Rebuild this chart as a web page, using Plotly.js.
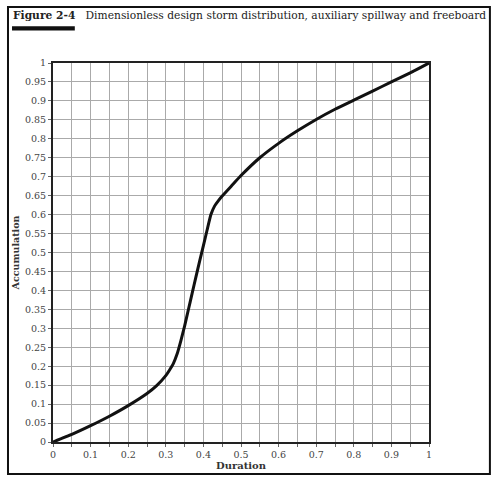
<!DOCTYPE html>
<html>
<head>
<meta charset="utf-8">
<script src="https://cdn.plot.ly/plotly-3.0.1.min.js"></script>
<style>html,body{margin:0;padding:0;background:#fff;}#chart{width:496px;height:478px;}</style>
</head>
<body>
<div id="chart"></div>
<script>
// Data
var duration = [0, 0.05, 0.1, 0.15, 0.2, 0.25, 0.275, 0.3, 0.31, 0.32, 0.33, 0.34, 0.35, 0.36, 0.37, 0.38, 0.39, 0.4, 0.41, 0.42, 0.43, 0.44, 0.45, 0.475, 0.5, 0.55, 0.6, 0.65, 0.7, 0.75, 0.8, 0.85, 0.9, 0.95, 1];
var accumulation = [0, 0.02, 0.043, 0.068, 0.096, 0.128, 0.148, 0.175, 0.19, 0.207, 0.232, 0.267, 0.306, 0.349, 0.392, 0.435, 0.477, 0.518, 0.56, 0.6, 0.623, 0.637, 0.649, 0.676, 0.703, 0.75, 0.788, 0.821, 0.851, 0.878, 0.902, 0.926, 0.95, 0.974, 1];

var xTickVals = [0,0.05,0.1,0.15,0.2,0.25,0.3,0.35,0.4,0.45,0.5,0.55,0.6,0.65,0.7,0.75,0.8,0.85,0.9,0.95,1];
var xTickText = ['0','','0.1','','0.2','','0.3','','0.4','','0.5','','0.6','','0.7','','0.8','','0.9','','1'];
var yTickVals = [0,0.05,0.1,0.15,0.2,0.25,0.3,0.35,0.4,0.45,0.5,0.55,0.6,0.65,0.7,0.75,0.8,0.85,0.9,0.95,1];
var yTickText = ['0','0.05','0.1','0.15','0.2','0.25','0.3','0.35','0.4','0.45','0.5','0.55','0.6','0.65','0.7','0.75','0.8','0.85','0.9','0.95','1'];

var titleBold = 'Figure 2-4';
var titleRest = 'Dimensionless design storm distribution, auxiliary spillway and freeboard';
var xTitle = 'Duration';
var yTitle = 'Accumulation';

var serif = '"DejaVu Serif", "Liberation Serif", serif';

var trace = {
  x: duration, y: accumulation, type: 'scatter', mode: 'lines',
  line: {color: '#111', width: 3, shape: 'spline', smoothing: 0.4},
  hoverinfo: 'skip'
};

var layout = {
  width: 496, height: 478,
  margin: {l: 53, r: 67, t: 63, b: 36},
  paper_bgcolor: '#fff', plot_bgcolor: '#fff',
  showlegend: false,
  font: {family: serif, color: '#333', size: 10},
  xaxis: {
    range: [0, 1], tickvals: xTickVals, ticktext: xTickText,
    showgrid: true, gridcolor: '#aaa', gridwidth: 1,
    zeroline: false, showline: true, linecolor: '#222', linewidth: 2, mirror: true,
    ticks: 'outside', ticklen: 3, tickcolor: '#666',
    tickfont: {family: serif, size: 9.5, color: '#444'},
    title: {text: '<b>' + xTitle + '</b>', font: {family: serif, size: 10, color: '#333'}, standoff: 3},
    fixedrange: true
  },
  yaxis: {
    range: [0, 1], tickvals: yTickVals, ticktext: yTickText,
    showgrid: true, gridcolor: '#aaa', gridwidth: 1,
    zeroline: false, showline: true, linecolor: '#222', linewidth: 2, mirror: true,
    ticks: 'outside', ticklen: 3, tickcolor: '#666',
    tickfont: {family: serif, size: 9.5, color: '#444'},
    title: {text: '<b>' + yTitle + '</b>', font: {family: serif, size: 9.5, color: '#333'}, standoff: 4},
    fixedrange: true
  },
  shapes: [
    // outer frame of the figure box
    {type: 'rect', xref: 'paper', yref: 'paper', x0: -0.1197, x1: 1.162, y0: -0.0844, y1: 1.1478,
     line: {color: '#111', width: 2}, fillcolor: 'rgba(0,0,0,0)', layer: 'below'},
    // black bar under the figure label
    {type: 'rect', xref: 'paper', yref: 'paper', x0: -0.109, x1: 0.058, y0: 1.086, y1: 1.097,
     line: {width: 0}, fillcolor: '#111'}
  ],
  annotations: [
    {xref: 'paper', yref: 'paper', x: -0.111, y: 1.125, xanchor: 'left', yanchor: 'middle', showarrow: false,
     text: '<b>' + titleBold + '</b>&nbsp;&nbsp;&nbsp;' + titleRest,
     font: {family: serif, size: 10.7, color: '#222'}}
  ]
};

Plotly.newPlot('chart', [trace], layout, {displayModeBar: false, staticPlot: true});
</script>
</body>
</html>
